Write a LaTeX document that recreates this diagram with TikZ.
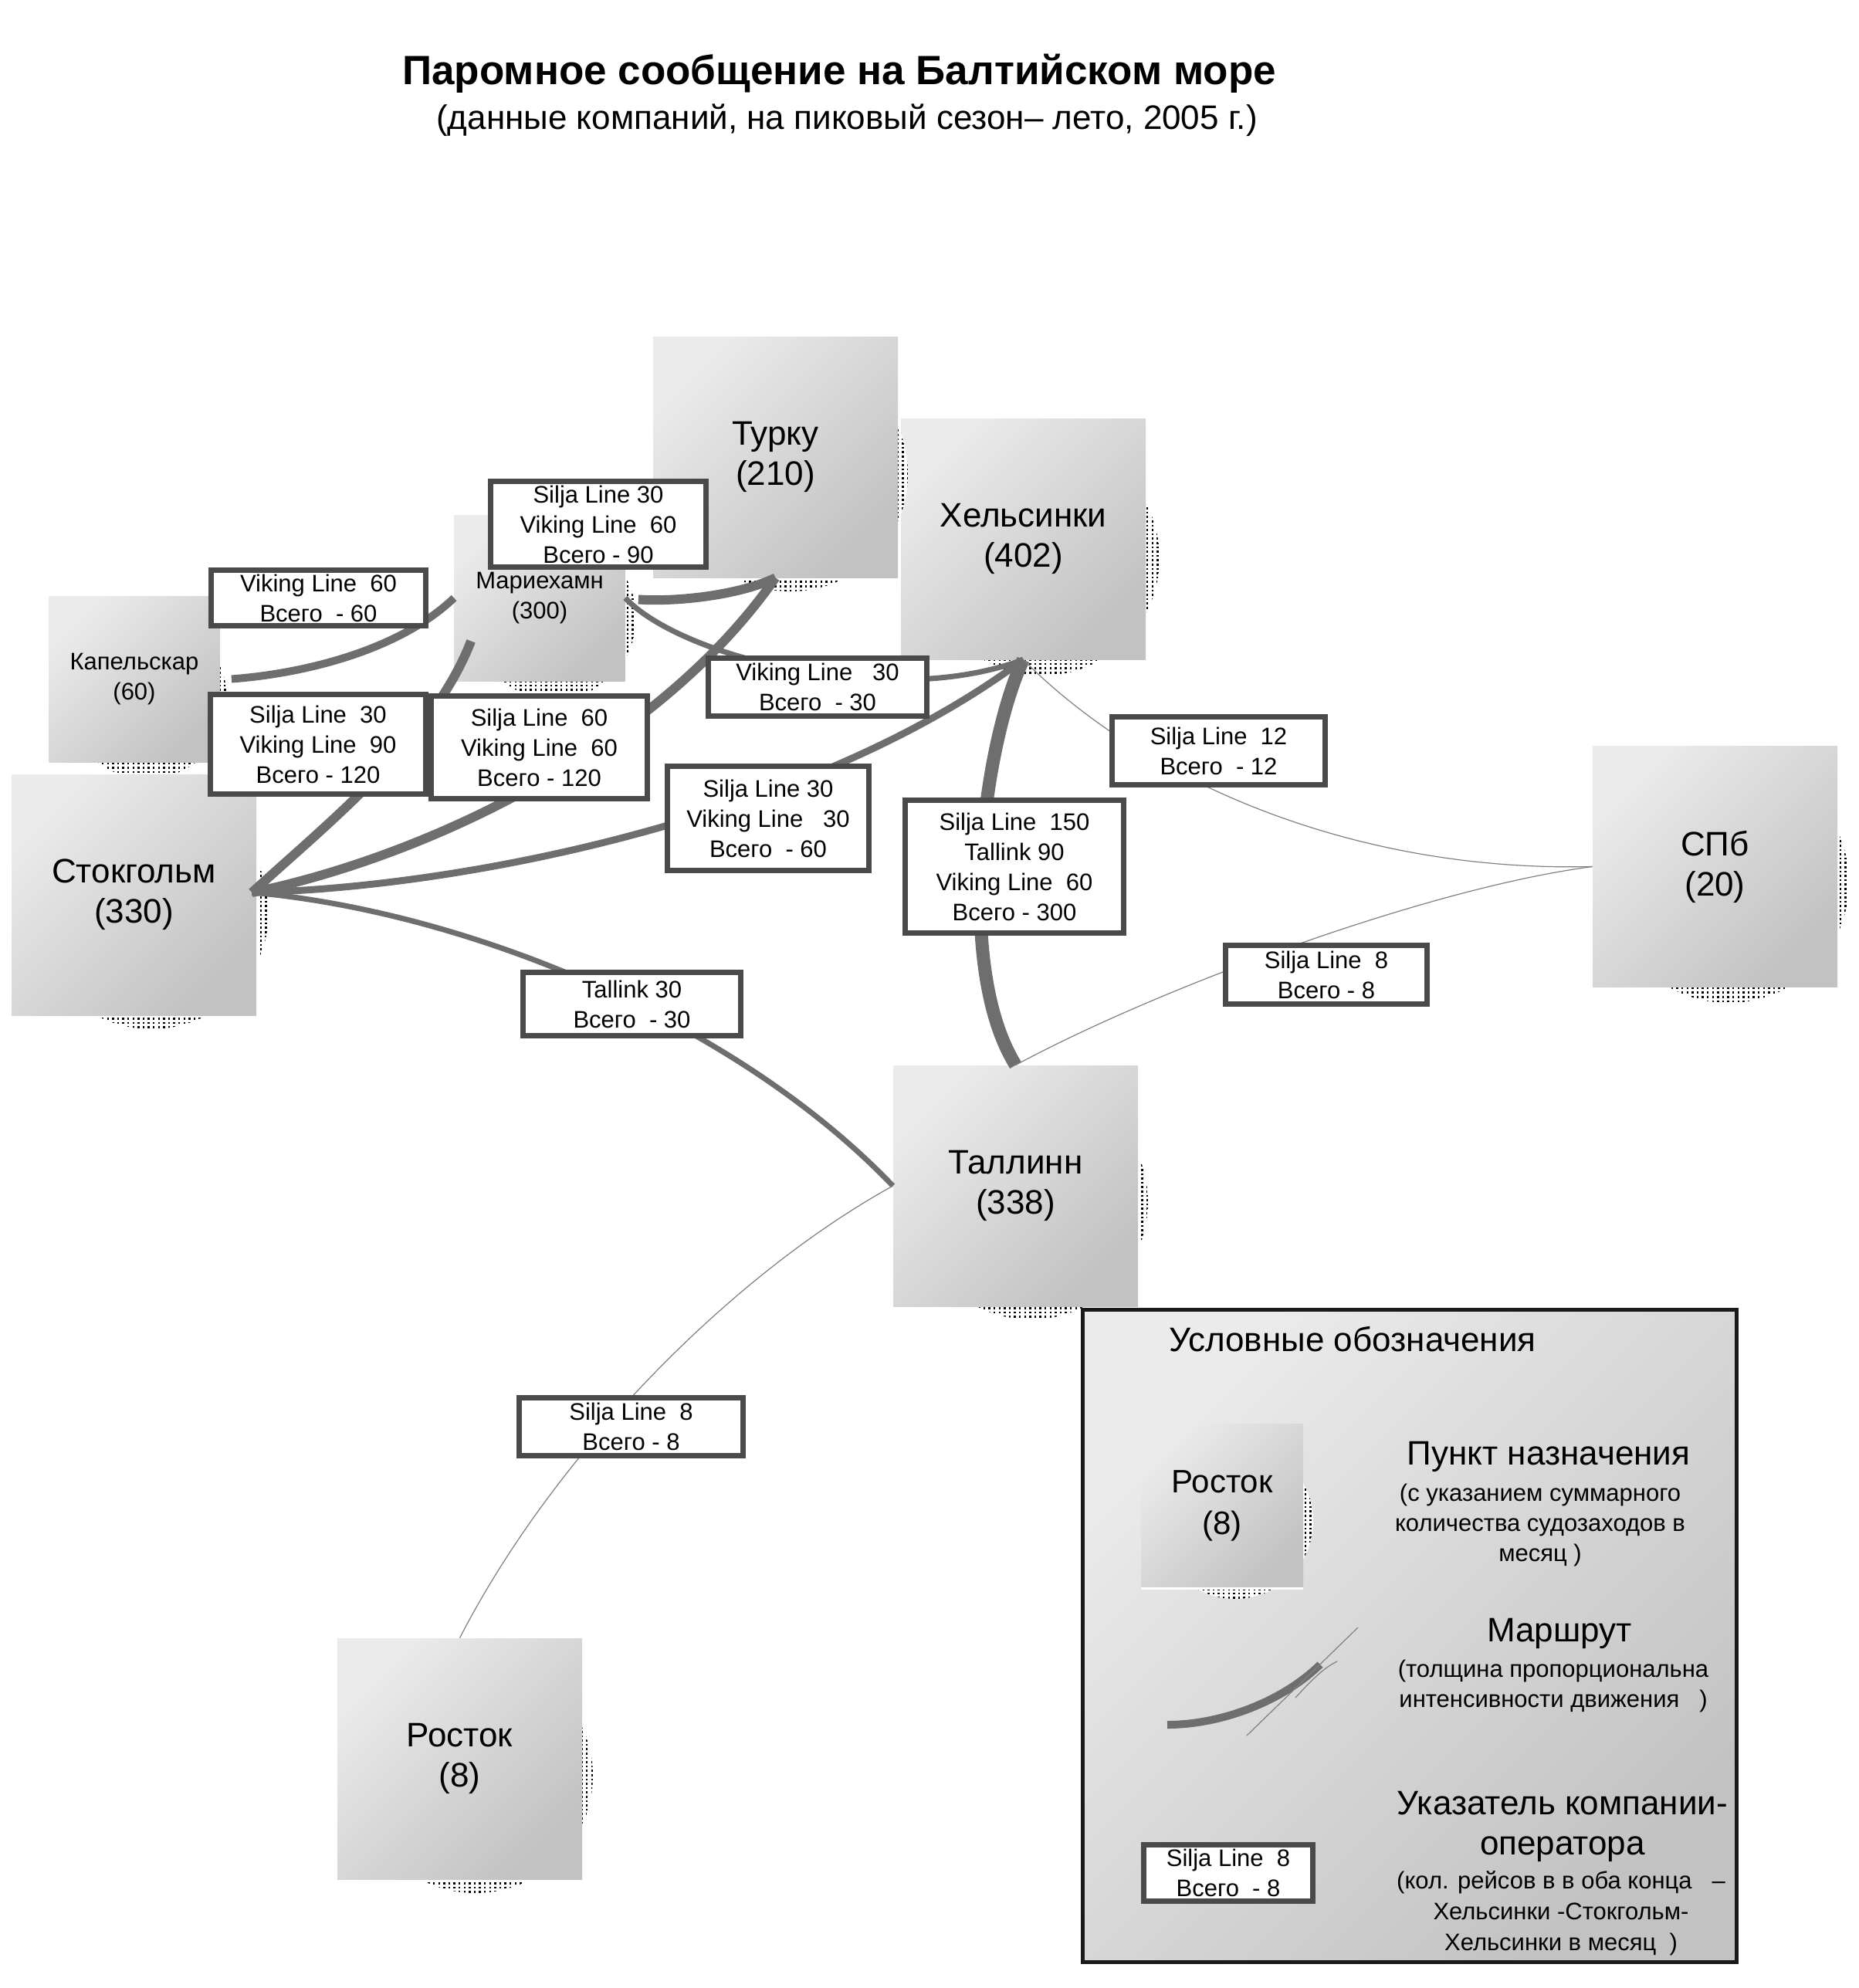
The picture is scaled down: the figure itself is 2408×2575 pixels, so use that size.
\documentclass[tikz,border=0pt]{standalone}
\usepackage{fontspec}
\setmainfont{Liberation Sans}
\usetikzlibrary{patterns,calc}
\pgfdeclarepatternformonly{shdots}{\pgfqpoint{-0.1pt}{-0.1pt}}{\pgfqpoint{1.4pt}{1.4pt}}{\pgfqpoint{3.3pt}{2.8pt}}%
  {\pgfpathrectangle{\pgfqpoint{0pt}{0pt}}{\pgfqpoint{1.15pt}{1.25pt}}\pgfusepath{fill}}
\definecolor{boxlight}{HTML}{EBEBEB}
\definecolor{boxdark}{HTML}{C2C2C2}
\definecolor{routecol}{HTML}{6E6E6E}
\definecolor{thincol}{HTML}{808080}
\definecolor{labelframe}{HTML}{4A4A4A}
\definecolor{legframe}{HTML}{1A1A1A}
\begin{document}
\begin{tikzpicture}[x=0.5pt,y=-0.5pt,
  city/.style={rectangle, inner sep=0pt, top color=boxlight, bottom color=boxdark, shading angle=45, align=center, font=\fontsize{22}{26}\selectfont},
  bigcity/.style={city, minimum width=158.5pt, minimum height=156pt},
  smallcity/.style={city, minimum width=110.5pt, minimum height=107.5pt, font=\fontsize{15.5}{19.5}\selectfont},
  shadowdots/.style={preaction={fill=white}, pattern=shdots},
  lbl/.style={rectangle, draw=labelframe, line width=3.5pt, fill=white, inner sep=0pt, align=center, font=\fontsize{15.5}{19.5}\selectfont},
  rt/.style={draw=routecol, line cap=butt},
  thinrt/.style={draw=thincol, line width=0.6pt},
  lgbig/.style={align=center, inner sep=0pt, font=\fontsize{22}{26}\selectfont},
  lgsmall/.style={align=center, inner sep=0pt, font=\fontsize{15.5}{19.5}\selectfont},
]
\useasboundingbox (0,0) rectangle (2408,2575);
\fill[white] (0,0) rectangle (2408,2575);

% title
\node[font=\bfseries\fontsize{26.5}{30}\selectfont] (title) at (1087,95) {Паромное сообщение на Балтийском море};
\node[font=\fontsize{22}{25}\selectfont] (subtitle) at (1097,156) {(данные компаний, на пиковый сезон– лето, 2005 г.)};

% cities (shadow, then box)
\fill[shadowdots] (1350,723) circle[radius=76pt];
\node[bigcity] (hel) at (1325.5,698) {Хельсинки\\(402)};
\fill[shadowdots] (1024,614) circle[radius=76pt];
\node[bigcity] (tur) at (1004.5,592) {Турку\\(210)};
\fill[shadowdots] (718,800) circle[radius=53pt];
\node[smallcity] (mar) at (699,774.5) {Мариехамн\\(300)};
\fill[shadowdots] (190,905) circle[radius=52pt];
\node[smallcity] (kap) at (174,879.5) {Капельскар\\(60)};
\fill[shadowdots] (196,1181) circle[radius=76pt];
\node[bigcity] (sto) at (173.5,1159) {Стокгольм\\(330)};
\fill[shadowdots] (2239,1143) circle[radius=78pt];
\node[bigcity] (spb) at (2221.5,1122.5) {СПб\\(20)};
\fill[shadowdots] (1335,1557) circle[radius=76pt];
\node[bigcity] (tal) at (1315.5,1536) {Таллинн\\(338)};
\fill[shadowdots] (616,2300) circle[radius=76pt];
\node[bigcity] (ros) at (595.5,2278) {Росток\\(8)};

% legend
\node[rectangle, draw=legframe, line width=2.5pt, top color=boxlight, bottom color=boxdark, shading angle=45,
      minimum width=423.5pt, minimum height=422.5pt, inner sep=0pt] (legend) at (1826,2119) {};
\node[lgbig] (lgtitle) at (1752,1735) {Условные обозначения};
\fill[shadowdots] (1600,1970) circle[radius=50.5pt];
\node[city, minimum width=105pt, minimum height=106.5pt, font=\fontsize{21}{27}\selectfont] (lros) at (1583,1950.5) {Росток\\(8)};
\draw[white, line width=1.2pt] (lros.south west) -- (lros.south east);
\node[lgbig] (lg1) at (2006,1887) {Пункт назначения};
\node[lgsmall] (lg1d) at (1995,1975) {(с указанием суммарного\\количества судозаходов в\\месяц )};
\node[lgbig] (lg2) at (2020,2116) {Маршрут};
\node[lgsmall] (lg2d) at (2012,2184) {(толщина пропорциональна\\интенсивности движения\ \ \ )};
\node[lgbig] (lg3) at (2024,2366) {Указатель компании-\\оператора};
\node[lgsmall, font=\fontsize{15.5}{20}\selectfont] (lg3d) at (2022,2478) {(кол. рейсов в в оба конца\ \ \ –\\Хельсинки -Стокгольм-\\Хельсинки в месяц\ \ )};
\coordinate (lra) at (1512,2234);
\coordinate (lrb) at (1710,2156);
\coordinate (lta) at (1615,2248);
\coordinate (ltb) at (1759,2108);
\coordinate (lsa) at (1678,2199);
\coordinate (lsb) at (1732,2152);
\draw[rt, line width=5pt] (lra) .. controls (1580,2234) and (1660,2205) .. (lrb);
\draw[thinrt] (lta) -- (ltb);
\draw[thinrt] (lsa) .. controls (1700,2175) and (1715,2160) .. (lsb);
\node[lbl, minimum width=109.5pt, minimum height=36.5pt] (lgl) at (1591,2426) {Silja Line\ \ 8\\Всего\ \ - 8};

% connector end points
\coordinate (S) at ($(sto.east)+(-6,-3)$);
\coordinate (K) at ($(kap.east)+(15,0)$);
\coordinate (Mr) at ($(mar.east)+(17,2)$);
\coordinate (Mb) at ($(mar.south west)+(22,-52)$);

% routes
\draw[rt, line width=5pt] (K) .. controls (400,872) and (520,840) .. (mar.west);
\draw[rt, line width=6pt] (Mr) .. controls (880,780) and (960,770) .. (tur.south);
\draw[rt, line width=6pt] (S) .. controls (420,1070) and (560,960) .. (Mb);
\draw[rt, line width=6pt] (S) .. controls (550,1110) and (850,970) .. (tur.south);
\draw[rt, line width=4.5pt] (S) .. controls (600,1150) and (1050,1060) .. (hel.south);
\draw[rt, line width=3.5pt] (mar.east) .. controls (880,850) and (1150,920) .. (hel.south);
\draw[rt, line width=3.5pt] (S) .. controls (600,1180) and (950,1320) .. (tal.west);
\draw[rt, line width=8.5pt] (hel.south) .. controls (1275,960) and (1235,1250) .. (tal.north);
\draw[thinrt] (hel.south) .. controls (1480,1010) and (1750,1130) .. (spb.west);
\draw[thinrt] (tal.north) .. controls (1500,1280) and (1850,1150) .. (spb.west);
\draw[thinrt] (tal.west) .. controls (950,1650) and (720,1880) .. (ros.north);

% operator labels
\node[lbl, minimum width=139.5pt, minimum height=55.5pt] (l1) at (775,679) {Silja Line 30\\Viking Line\ \ 60\\Всего - 90};
\node[lbl, minimum width=139pt, minimum height=36pt] (l2) at (412.5,774.5) {Viking Line\ \ 60\\Всего\ \ - 60};
\node[lbl, minimum width=139.5pt, minimum height=64.5pt] (l3) at (412,964) {Silja Line\ \ 30\\Viking Line\ \ 90\\Всего - 120};
\node[lbl, minimum width=140pt, minimum height=66.5pt] (l4) at (698.5,968) {Silja Line\ \ 60\\Viking Line\ \ 60\\Всего - 120};
\node[lbl, minimum width=141.5pt, minimum height=37.5pt] (l5) at (1059,890) {Viking Line\ \ \ 30\\Всего\ \ - 30};
\node[lbl, minimum width=130.5pt, minimum height=67.5pt] (l6) at (995,1060) {Silja Line 30\\Viking Line\ \ \ 30\\Всего\ \ - 60};
\node[lbl, minimum width=141.5pt, minimum height=86pt] (l7) at (1314,1122.5) {Silja Line\ \ 150\\Tallink 90\\Viking Line\ \ 60\\Всего - 300};
\node[lbl, minimum width=138pt, minimum height=44pt] (l8) at (1578.5,972.5) {Silja Line\ \ 12\\Всего\ \ - 12};
\node[lbl, minimum width=130.5pt, minimum height=38pt] (l9) at (1718,1262.5) {Silja Line\ \ 8\\Всего - 8};
\node[lbl, minimum width=141pt, minimum height=41pt] (l10) at (818.5,1300.5) {Tallink 30\\Всего\ \ - 30};
\node[lbl, minimum width=145pt, minimum height=37.5pt] (l11) at (817.5,1848) {Silja Line\ \ 8\\Всего - 8};
\end{tikzpicture}
\end{document}
